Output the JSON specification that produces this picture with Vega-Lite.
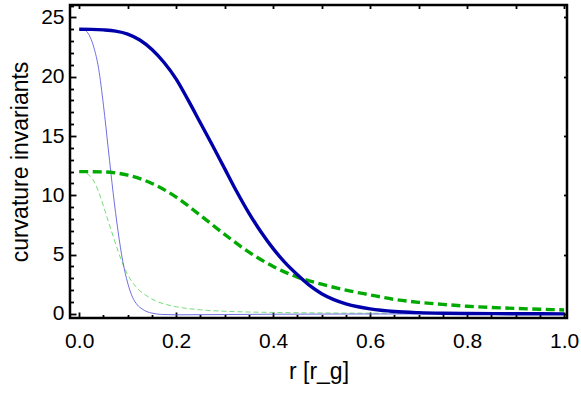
{
  "$schema": "https://vega.github.io/schema/vega-lite/v6.json",
  "width": 497,
  "height": 313,
  "autosize": "none",
  "padding": {"left": 70, "top": 5, "right": 14, "bottom": 75},
  "background": "white",
  "config": {
    "view": {"stroke": "black", "strokeWidth": 2.5},
    "font": "Liberation Sans",
    "axis": {
      "domain": false,
      "grid": false,
      "tickColor": "black",
      "tickWidth": 1.8,
      "labelFont": "Liberation Sans",
      "labelFontSize": 21,
      "labelColor": "black",
      "labelFlush": false,
      "labelOverlap": false,
      "titleFont": "Liberation Sans",
      "titleFontSize": 23,
      "titleFontWeight": "normal",
      "titleColor": "black"
    }
  },
  "datasets": {
    "curves": [
      {"s": "g2", "r": 0, "v": 12}, {"s": "g2", "r": 0.01, "v": 11.95}, {"s": "g2", "r": 0.02, "v": 11.7}, {"s": "g2", "r": 0.03, "v": 11.2}, {"s": "g2", "r": 0.04, "v": 10.3}, {"s": "g2", "r": 0.05, "v": 9.1}, {"s": "g2", "r": 0.06, "v": 7.8}, {"s": "g2", "r": 0.07, "v": 6.55}, {"s": "g2", "r": 0.08, "v": 5.3}, {"s": "g2", "r": 0.09, "v": 4.2}, {"s": "g2", "r": 0.1, "v": 3.3}, {"s": "g2", "r": 0.11, "v": 2.65}, {"s": "g2", "r": 0.12, "v": 2.15}, {"s": "g2", "r": 0.14, "v": 1.5}, {"s": "g2", "r": 0.16, "v": 1.05}, {"s": "g2", "r": 0.18, "v": 0.78}, {"s": "g2", "r": 0.2, "v": 0.6}, {"s": "g2", "r": 0.25, "v": 0.34}, {"s": "g2", "r": 0.3, "v": 0.22}, {"s": "g2", "r": 0.4, "v": 0.12}, {"s": "g2", "r": 0.5, "v": 0.08}, {"s": "g2", "r": 0.7, "v": 0.04}, {"s": "g2", "r": 1.0, "v": 0.02},
      {"s": "b2", "r": 0, "v": 24}, {"s": "b2", "r": 0.01, "v": 23.95}, {"s": "b2", "r": 0.02, "v": 23.55}, {"s": "b2", "r": 0.03, "v": 22.5}, {"s": "b2", "r": 0.04, "v": 20.7}, {"s": "b2", "r": 0.05, "v": 17.6}, {"s": "b2", "r": 0.06, "v": 13.9}, {"s": "b2", "r": 0.07, "v": 10.2}, {"s": "b2", "r": 0.08, "v": 7.0}, {"s": "b2", "r": 0.09, "v": 4.4}, {"s": "b2", "r": 0.1, "v": 2.6}, {"s": "b2", "r": 0.11, "v": 1.4}, {"s": "b2", "r": 0.12, "v": 0.75}, {"s": "b2", "r": 0.13, "v": 0.4}, {"s": "b2", "r": 0.14, "v": 0.18}, {"s": "b2", "r": 0.15, "v": 0.06}, {"s": "b2", "r": 0.17, "v": -0.05}, {"s": "b2", "r": 0.2, "v": -0.08}, {"s": "b2", "r": 0.3, "v": -0.06}, {"s": "b2", "r": 0.4, "v": -0.03}, {"s": "b2", "r": 0.6, "v": -0.01}, {"s": "b2", "r": 1.0, "v": 0},
      {"s": "g1", "r": 0, "v": 12}, {"s": "g1", "r": 0.05, "v": 11.97}, {"s": "g1", "r": 0.1, "v": 11.7}, {"s": "g1", "r": 0.15, "v": 11.0}, {"s": "g1", "r": 0.2, "v": 9.85}, {"s": "g1", "r": 0.25, "v": 8.3}, {"s": "g1", "r": 0.3, "v": 6.7}, {"s": "g1", "r": 0.35, "v": 5.2}, {"s": "g1", "r": 0.4, "v": 4.0}, {"s": "g1", "r": 0.45, "v": 3.1}, {"s": "g1", "r": 0.5, "v": 2.5}, {"s": "g1", "r": 0.55, "v": 2.0}, {"s": "g1", "r": 0.6, "v": 1.6}, {"s": "g1", "r": 0.65, "v": 1.22}, {"s": "g1", "r": 0.7, "v": 0.97}, {"s": "g1", "r": 0.75, "v": 0.8}, {"s": "g1", "r": 0.8, "v": 0.64}, {"s": "g1", "r": 0.85, "v": 0.54}, {"s": "g1", "r": 0.9, "v": 0.46}, {"s": "g1", "r": 0.95, "v": 0.39}, {"s": "g1", "r": 1.0, "v": 0.33},
      {"s": "b1", "r": 0, "v": 24}, {"s": "b1", "r": 0.025, "v": 23.99}, {"s": "b1", "r": 0.05, "v": 23.95}, {"s": "b1", "r": 0.075, "v": 23.85}, {"s": "b1", "r": 0.1, "v": 23.6}, {"s": "b1", "r": 0.125, "v": 23.1}, {"s": "b1", "r": 0.15, "v": 22.3}, {"s": "b1", "r": 0.175, "v": 21.2}, {"s": "b1", "r": 0.2, "v": 19.8}, {"s": "b1", "r": 0.225, "v": 18.0}, {"s": "b1", "r": 0.25, "v": 16.1}, {"s": "b1", "r": 0.275, "v": 14.2}, {"s": "b1", "r": 0.3, "v": 12.25}, {"s": "b1", "r": 0.325, "v": 10.3}, {"s": "b1", "r": 0.35, "v": 8.5}, {"s": "b1", "r": 0.375, "v": 6.9}, {"s": "b1", "r": 0.4, "v": 5.5}, {"s": "b1", "r": 0.425, "v": 4.3}, {"s": "b1", "r": 0.45, "v": 3.3}, {"s": "b1", "r": 0.475, "v": 2.4}, {"s": "b1", "r": 0.5, "v": 1.7}, {"s": "b1", "r": 0.525, "v": 1.2}, {"s": "b1", "r": 0.55, "v": 0.85}, {"s": "b1", "r": 0.575, "v": 0.6}, {"s": "b1", "r": 0.6, "v": 0.42}, {"s": "b1", "r": 0.65, "v": 0.2}, {"s": "b1", "r": 0.7, "v": 0.1}, {"s": "b1", "r": 0.75, "v": 0.05}, {"s": "b1", "r": 0.8, "v": 0.03}, {"s": "b1", "r": 0.9, "v": 0.01}, {"s": "b1", "r": 1.0, "v": 0}
    ]
  },
  "data": {"name": "curves"},
  "resolve": {"axis": {"x": "independent", "y": "independent"}},
  "layer": [
    {
      "transform": [{"filter": "datum.s === 'g2'"}],
      "mark": {"type": "line", "color": "#66d866", "strokeWidth": 0.9, "strokeDash": [5, 3], "interpolate": "monotone", "clip": true},
      "encoding": {
        "x": {"field": "r", "type": "quantitative", "scale": {"domain": [-0.019, 1.006], "nice": false, "zero": false},
          "axis": {"orient": "bottom", "values": [0, 0.2, 0.4, 0.6, 0.8, 1], "format": ".1f", "tickSize": -6, "labelPadding": 18, "title": "r [r_g]", "titlePadding": 9}},
        "y": {"field": "v", "type": "quantitative", "scale": {"domain": [-0.35, 26.05], "nice": false, "zero": false},
          "axis": {"orient": "left", "values": [0, 5, 10, 15, 20, 25], "format": "d", "tickSize": -6, "labelPadding": 12, "title": "curvature invariants", "titlePadding": 8}}
      }
    },
    {
      "transform": [{"filter": "datum.s === 'b2'"}],
      "mark": {"type": "line", "color": "#6060dc", "strokeWidth": 0.9, "interpolate": "monotone", "clip": true},
      "encoding": {
        "x": {"field": "r", "type": "quantitative", "scale": {"domain": [-0.019, 1.006], "nice": false, "zero": false},
          "axis": {"orient": "bottom", "values": [0.05, 0.1, 0.15, 0.25, 0.3, 0.35, 0.45, 0.5, 0.55, 0.65, 0.7, 0.75, 0.85, 0.9, 0.95], "labels": false, "tickSize": -3.5, "title": null}},
        "y": {"field": "v", "type": "quantitative", "scale": {"domain": [-0.35, 26.05], "nice": false, "zero": false},
          "axis": {"orient": "left", "values": [1, 2, 3, 4, 6, 7, 8, 9, 11, 12, 13, 14, 16, 17, 18, 19, 21, 22, 23, 24, 26], "labels": false, "tickSize": -3.5, "title": null}}
      }
    },
    {
      "transform": [{"filter": "datum.s === 'g1'"}],
      "mark": {"type": "line", "color": "#00aa00", "strokeWidth": 3.4, "strokeDash": [9, 4.5], "interpolate": "monotone", "clip": true},
      "encoding": {
        "x": {"field": "r", "type": "quantitative", "scale": {"domain": [-0.019, 1.006], "nice": false, "zero": false},
          "axis": {"orient": "top", "values": [0, 0.1, 0.2, 0.3, 0.4, 0.5, 0.6, 0.7, 0.8, 0.9, 1], "labels": false, "tickSize": -3.5, "title": null}},
        "y": {"field": "v", "type": "quantitative", "scale": {"domain": [-0.35, 26.05], "nice": false, "zero": false},
          "axis": {"orient": "right", "values": [0, 5, 10, 15, 20, 25], "labels": false, "tickSize": -3.5, "title": null}}
      }
    },
    {
      "transform": [{"filter": "datum.s === 'b1'"}],
      "mark": {"type": "line", "color": "#0000aa", "strokeWidth": 3.4, "interpolate": "monotone", "clip": true},
      "encoding": {
        "x": {"field": "r", "type": "quantitative", "scale": {"domain": [-0.019, 1.006], "nice": false, "zero": false}, "axis": null},
        "y": {"field": "v", "type": "quantitative", "scale": {"domain": [-0.35, 26.05], "nice": false, "zero": false}, "axis": null}
      }
    }
  ]
}
